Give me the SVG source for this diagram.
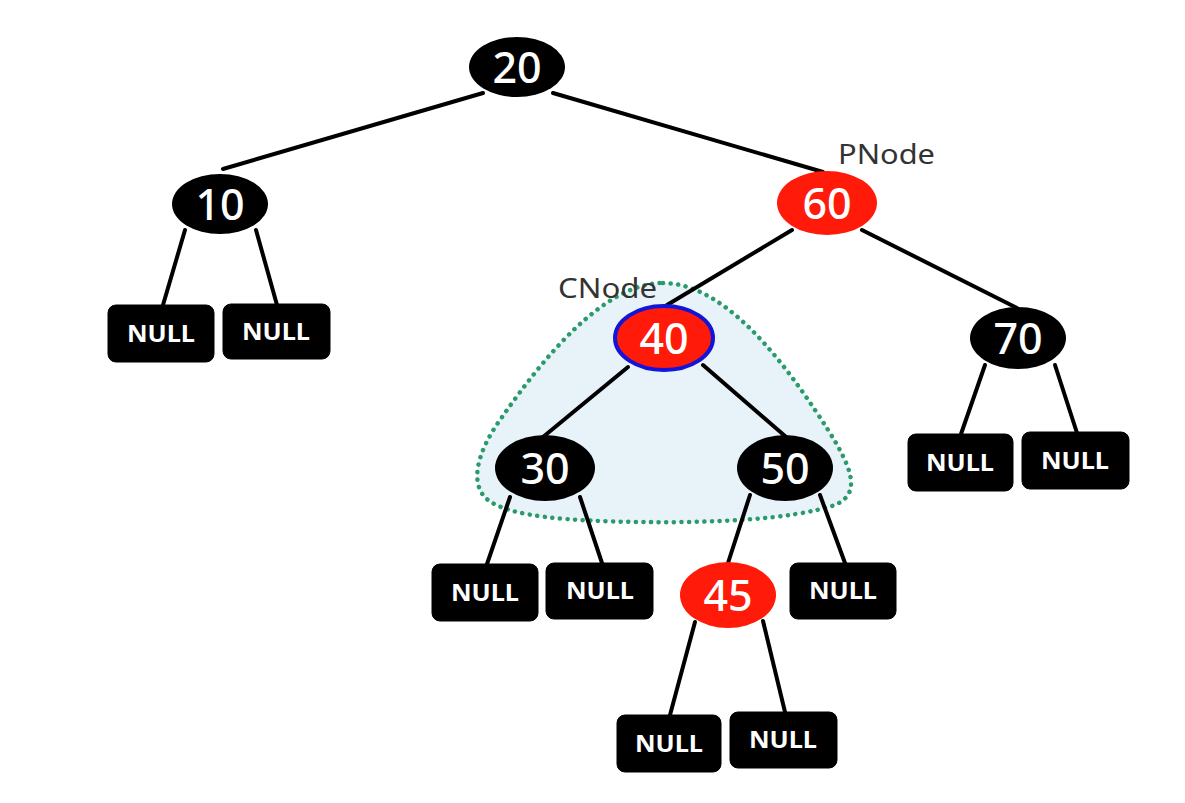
<svg xmlns="http://www.w3.org/2000/svg" width="1185" height="803" viewBox="0 0 1185 803">
<style>
.blk{fill:#000}
.red{fill:#ff1a0a}
.val{font-family:"Noto Sans","Open Sans",sans-serif;font-size:43px;font-weight:500;fill:#fff;text-anchor:middle}
.nul{font-family:"Noto Sans","Open Sans",sans-serif;font-size:24px;font-weight:bold;fill:#fff;text-anchor:middle}
.box{fill:#000;stroke:#000}
.lbl{font-family:"Noto Sans","Open Sans",sans-serif;font-size:28px;fill:#333}
#edges line{stroke:#000;stroke-width:4;stroke-linecap:round}
</style>
<rect width="1185" height="803" fill="#fff"/>
<g id="subtree-region">
<path d="M663,283 C720,283 775,350 815,410 C850,462 865,492 835,505 C790,520 710,523 640,522 C570,521 510,517 488,500 C470,486 475,455 500,420 C545,355 605,283 663,283 Z" fill="#e8f2f9" stroke="#2b9a6c" stroke-width="4.5" stroke-dasharray="0.1 7.5" stroke-linecap="round"/>
</g>
<g id="edges">
<line x1="483" y1="93" x2="223" y2="169"/>
<line x1="553" y1="93" x2="823" y2="172"/>
<line x1="185" y1="230" x2="163" y2="305"/>
<line x1="256" y1="230" x2="277" y2="305"/>
<line x1="792" y1="230" x2="667" y2="305"/>
<line x1="862" y1="230" x2="1017" y2="308"/>
<line x1="985" y1="365" x2="961" y2="434"/>
<line x1="1055" y1="365" x2="1077" y2="433"/>
<line x1="628" y1="367" x2="543" y2="437"/>
<line x1="703" y1="365" x2="785" y2="436"/>
<line x1="510" y1="497" x2="487" y2="564"/>
<line x1="580" y1="497" x2="602" y2="563"/>
<line x1="750" y1="495" x2="728" y2="563"/>
<line x1="820" y1="495" x2="845" y2="563"/>
<line x1="695" y1="622" x2="670" y2="715"/>
<line x1="763" y1="621" x2="785" y2="712"/>
</g>
<g id="n20"><ellipse cx="517" cy="67" rx="48" ry="30" class="blk"/><text x="517" y="83" class="val">20</text></g>
<g id="n10"><ellipse cx="220" cy="204" rx="48" ry="30" class="blk"/><text x="220" y="220" class="val">10</text></g>
<g id="n60"><ellipse cx="827" cy="203" rx="50" ry="32" class="red"/><text x="827" y="219" class="val">60</text></g>
<g id="n70"><ellipse cx="1018" cy="338" rx="48" ry="31" class="blk"/><text x="1018" y="354" class="val">70</text></g>
<g id="n40"><ellipse cx="664" cy="338" rx="49" ry="32" class="red" stroke="#1414d8" stroke-width="4"/><text x="664" y="354" class="val">40</text></g>
<g id="n30"><ellipse cx="545" cy="468" rx="50" ry="33" class="blk"/><text x="545" y="484" class="val">30</text></g>
<g id="n50"><ellipse cx="785" cy="468" rx="48" ry="33" class="blk"/><text x="785" y="484" class="val">50</text></g>
<g id="n45"><ellipse cx="728" cy="595" rx="48" ry="33" class="red"/><text x="728" y="611" class="val">45</text></g>
<g id="null1"><rect x="108" y="305" width="106" height="57" rx="8" class="box"/><text x="161" y="342" class="nul" textLength="68" lengthAdjust="spacingAndGlyphs">NULL</text></g>
<g id="null2"><rect x="223" y="304" width="107" height="55" rx="8" class="box"/><text x="276" y="340" class="nul" textLength="68" lengthAdjust="spacingAndGlyphs">NULL</text></g>
<g id="null3"><rect x="908" y="434" width="105" height="57" rx="8" class="box"/><text x="960" y="471" class="nul" textLength="68" lengthAdjust="spacingAndGlyphs">NULL</text></g>
<g id="null4"><rect x="1022" y="432" width="107" height="57" rx="8" class="box"/><text x="1075" y="469" class="nul" textLength="68" lengthAdjust="spacingAndGlyphs">NULL</text></g>
<g id="null5"><rect x="432" y="564" width="106" height="57" rx="8" class="box"/><text x="485" y="601" class="nul" textLength="68" lengthAdjust="spacingAndGlyphs">NULL</text></g>
<g id="null6"><rect x="546" y="563" width="107" height="56" rx="8" class="box"/><text x="600" y="599" class="nul" textLength="68" lengthAdjust="spacingAndGlyphs">NULL</text></g>
<g id="null7"><rect x="790" y="563" width="106" height="56" rx="8" class="box"/><text x="843" y="599" class="nul" textLength="68" lengthAdjust="spacingAndGlyphs">NULL</text></g>
<g id="null8"><rect x="617" y="715" width="104" height="57" rx="8" class="box"/><text x="669" y="752" class="nul" textLength="68" lengthAdjust="spacingAndGlyphs">NULL</text></g>
<g id="null9"><rect x="730" y="712" width="107" height="56" rx="8" class="box"/><text x="783" y="748" class="nul" textLength="68" lengthAdjust="spacingAndGlyphs">NULL</text></g>
<g id="labels">
<text x="838" y="164" class="lbl" textLength="97" lengthAdjust="spacingAndGlyphs">PNode</text>
<text x="558" y="298" class="lbl" textLength="99" lengthAdjust="spacingAndGlyphs">CNode</text>
</g>
</svg>
